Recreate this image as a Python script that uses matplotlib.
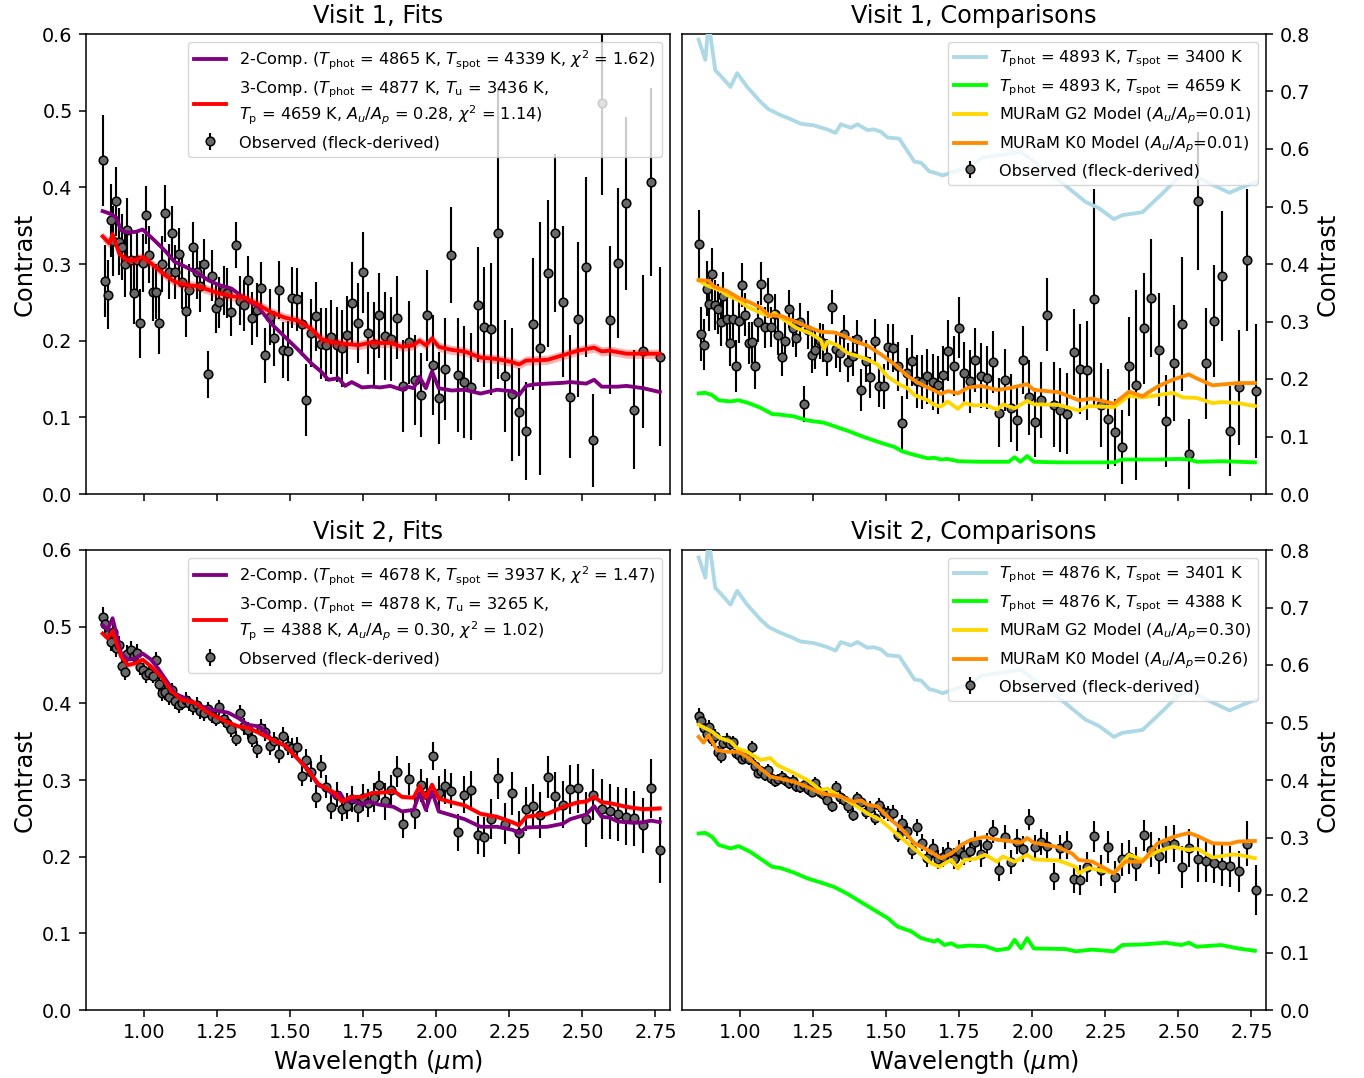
import matplotlib
matplotlib.use("Agg")
import matplotlib.pyplot as plt
import numpy as np

# ---------------- observed contrast spectra (fleck-derived) ----------------
wavelength = [
    0.857, 0.866, 0.875, 0.885, 0.894, 0.904, 0.913, 0.923, 0.932, 0.942,
    0.953, 0.964, 0.974, 0.984, 0.995, 1.006, 1.017, 1.028, 1.039, 1.050,
    1.061, 1.072, 1.084, 1.094, 1.106, 1.118, 1.130, 1.142, 1.154, 1.167,
    1.179, 1.192, 1.205, 1.218, 1.231, 1.244, 1.257, 1.271, 1.284, 1.298,
    1.312, 1.326, 1.340, 1.355, 1.369, 1.384, 1.399, 1.414, 1.429, 1.444,
    1.460, 1.475, 1.491, 1.507, 1.522, 1.539, 1.555, 1.572, 1.589, 1.606,
    1.623, 1.640, 1.658, 1.676, 1.694, 1.712, 1.730, 1.749, 1.767, 1.786,
    1.805, 1.825, 1.845, 1.864, 1.884, 1.905, 1.925, 1.946, 1.967, 1.987,
    2.008, 2.029, 2.051, 2.073, 2.095, 2.118, 2.141, 2.164, 2.187, 2.210,
    2.234, 2.258, 2.282, 2.307, 2.331, 2.356, 2.382, 2.407, 2.432, 2.458,
    2.485, 2.511, 2.538, 2.566, 2.593, 2.621, 2.649, 2.678, 2.707, 2.736,
    2.765]

v1_contrast = [
    0.435, 0.278, 0.260, 0.357, 0.330, 0.382, 0.329, 0.322, 0.300, 0.344,
    0.305, 0.262, 0.305, 0.223, 0.301, 0.364, 0.312, 0.263, 0.264, 0.223,
    0.300, 0.366, 0.290, 0.341, 0.290, 0.313, 0.277, 0.239, 0.266, 0.322,
    0.289, 0.271, 0.300, 0.156, 0.285, 0.242, 0.250, 0.266, 0.262, 0.238,
    0.325, 0.252, 0.246, 0.279, 0.229, 0.240, 0.269, 0.181, 0.231, 0.203,
    0.266, 0.188, 0.187, 0.256, 0.254, 0.222, 0.123, 0.210, 0.232, 0.196,
    0.195, 0.205, 0.195, 0.190, 0.207, 0.249, 0.223, 0.289, 0.210, 0.196,
    0.233, 0.206, 0.202, 0.230, 0.141, 0.198, 0.149, 0.129, 0.233, 0.168,
    0.125, 0.163, 0.312, 0.155, 0.146, 0.140, 0.247, 0.218, 0.215, 0.340,
    0.154, 0.130, 0.107, 0.082, 0.222, 0.190, 0.288, 0.341, 0.251, 0.127,
    0.228, 0.296, 0.070, 0.510, 0.227, 0.301, 0.379, 0.110, 0.186, 0.407,
    0.179]

v1_error = [
    0.059, 0.047, 0.045, 0.048, 0.046, 0.045, 0.044, 0.043, 0.043, 0.042,
    0.041, 0.040, 0.040, 0.045, 0.038, 0.038, 0.037, 0.037, 0.036, 0.040,
    0.036, 0.037, 0.036, 0.035, 0.035, 0.034, 0.036, 0.034, 0.034, 0.033,
    0.034, 0.033, 0.033, 0.031, 0.033, 0.032, 0.033, 0.032, 0.033, 0.032,
    0.030, 0.032, 0.033, 0.032, 0.034, 0.035, 0.034, 0.036, 0.037, 0.036,
    0.038, 0.037, 0.039, 0.040, 0.041, 0.042, 0.047, 0.044, 0.045, 0.046,
    0.047, 0.048, 0.049, 0.050, 0.051, 0.053, 0.052, 0.053, 0.054, 0.055,
    0.055, 0.057, 0.055, 0.054, 0.060, 0.054, 0.059, 0.055, 0.059, 0.065,
    0.060, 0.066, 0.063, 0.074, 0.073, 0.070, 0.075, 0.078, 0.086, 0.190,
    0.073, 0.087, 0.058, 0.064, 0.086, 0.165, 0.096, 0.103, 0.098, 0.080,
    0.101, 0.117, 0.061, 0.120, 0.096, 0.098, 0.113, 0.078, 0.100, 0.123,
    0.117]

v2_contrast = [
    0.512, 0.503, 0.490, 0.480, 0.493, 0.472, 0.476, 0.449, 0.441, 0.465,
    0.470, 0.462, 0.466, 0.447, 0.443, 0.437, 0.440, 0.436, 0.457, 0.425,
    0.413, 0.415, 0.408, 0.417, 0.403, 0.398, 0.401, 0.405, 0.400, 0.395,
    0.398, 0.390, 0.387, 0.392, 0.384, 0.380, 0.395, 0.379, 0.375, 0.366,
    0.354, 0.388, 0.370, 0.365, 0.354, 0.340, 0.368, 0.362, 0.345, 0.351,
    0.334, 0.357, 0.345, 0.342, 0.343, 0.305, 0.326, 0.311, 0.278, 0.318,
    0.291, 0.265, 0.281, 0.262, 0.266, 0.275, 0.263, 0.277, 0.270, 0.277,
    0.293, 0.272, 0.287, 0.311, 0.243, 0.301, 0.257, 0.293, 0.280, 0.331,
    0.283, 0.292, 0.286, 0.232, 0.281, 0.287, 0.228, 0.226, 0.249, 0.302,
    0.243, 0.283, 0.231, 0.262, 0.266, 0.254, 0.304, 0.279, 0.268, 0.288,
    0.289, 0.249, 0.281, 0.262, 0.259, 0.256, 0.252, 0.250, 0.241, 0.289,
    0.209]

v2_error = [
    0.014, 0.013, 0.013, 0.012, 0.012, 0.012, 0.012, 0.011, 0.011, 0.011,
    0.011, 0.011, 0.011, 0.010, 0.010, 0.010, 0.010, 0.010, 0.010, 0.010,
    0.010, 0.010, 0.010, 0.010, 0.010, 0.010, 0.010, 0.010, 0.010, 0.010,
    0.010, 0.010, 0.010, 0.010, 0.010, 0.010, 0.010, 0.010, 0.010, 0.010,
    0.010, 0.010, 0.011, 0.011, 0.011, 0.011, 0.011, 0.011, 0.012, 0.012,
    0.012, 0.012, 0.012, 0.013, 0.013, 0.013, 0.014, 0.014, 0.015, 0.015,
    0.015, 0.016, 0.016, 0.016, 0.017, 0.017, 0.018, 0.018, 0.018, 0.019,
    0.019, 0.024, 0.020, 0.020, 0.018, 0.021, 0.021, 0.022, 0.022, 0.018,
    0.022, 0.023, 0.023, 0.024, 0.024, 0.025, 0.025, 0.026, 0.026, 0.027,
    0.027, 0.028, 0.028, 0.029, 0.029, 0.030, 0.027, 0.031, 0.031, 0.032,
    0.032, 0.036, 0.033, 0.039, 0.036, 0.035, 0.037, 0.036, 0.036, 0.039,
    0.043]

# ---------------- Visit 1 fits ----------------
v1_two_wl = [0.857, 0.880, 0.903, 0.920, 0.943, 0.971, 0.994, 1.023, 1.069, 1.103,
             1.137, 1.183, 1.218, 1.252, 1.298, 1.344, 1.390, 1.435, 1.481, 1.527,
             1.573, 1.607, 1.630, 1.664, 1.687, 1.710, 1.745, 1.779, 1.808, 1.842,
             1.882, 1.902, 1.922, 1.942, 1.964, 1.985, 2.008, 2.052, 2.096, 2.151,
             2.208, 2.260, 2.283, 2.307, 2.335, 2.380, 2.433, 2.459, 2.513, 2.540,
             2.566, 2.620, 2.651, 2.708, 2.765]
v1_two = [0.369, 0.366, 0.361, 0.344, 0.341, 0.342, 0.345, 0.335, 0.318, 0.303,
          0.297, 0.288, 0.279, 0.273, 0.268, 0.255, 0.244, 0.222, 0.205, 0.188,
          0.170, 0.159, 0.149, 0.151, 0.141, 0.146, 0.139, 0.140, 0.139, 0.141,
          0.136, 0.140, 0.138, 0.153, 0.138, 0.160, 0.138, 0.135, 0.136, 0.131,
          0.136, 0.134, 0.129, 0.141, 0.143, 0.144, 0.145, 0.146, 0.144, 0.149,
          0.140, 0.140, 0.141, 0.138, 0.133]

v1_three_wl = [0.857, 0.880, 0.891, 0.914, 0.943, 0.966, 0.994, 1.023, 1.069, 1.103,
               1.137, 1.183, 1.252, 1.298, 1.344, 1.390, 1.435, 1.481, 1.527, 1.573,
               1.607, 1.642, 1.687, 1.733, 1.779, 1.808, 1.842, 1.882, 1.922, 1.942,
               1.964, 1.985, 2.008, 2.052, 2.096, 2.151, 2.208, 2.260, 2.283, 2.307,
               2.380, 2.433, 2.485, 2.540, 2.566, 2.593, 2.651, 2.708, 2.765]
v1_three = [0.336, 0.327, 0.339, 0.313, 0.305, 0.305, 0.309, 0.301, 0.286, 0.277,
            0.273, 0.271, 0.262, 0.258, 0.256, 0.247, 0.237, 0.230, 0.226, 0.215,
            0.202, 0.198, 0.196, 0.194, 0.198, 0.197, 0.197, 0.192, 0.194, 0.200,
            0.194, 0.203, 0.192, 0.188, 0.186, 0.178, 0.176, 0.172, 0.169, 0.174,
            0.175, 0.181, 0.187, 0.191, 0.186, 0.187, 0.183, 0.183, 0.183]
v1_three_unc = 0.006

# ---------------- Visit 1 comparisons ----------------
v1_cool_wl = [0.857, 0.880, 0.891, 0.914, 0.931, 0.966, 0.989, 1.023, 1.069, 1.097,
              1.137, 1.172, 1.206, 1.252, 1.298, 1.326, 1.344, 1.378, 1.401, 1.435,
              1.458, 1.481, 1.504, 1.544, 1.596, 1.619, 1.647, 1.664, 1.693, 1.787,
              1.827, 1.900, 1.960, 2.000, 2.090, 2.182, 2.228, 2.279, 2.308, 2.377,
              2.446, 2.503, 2.537, 2.595, 2.675, 2.721, 2.766]
v1_cool = [0.790, 0.755, 0.820, 0.737, 0.728, 0.708, 0.732, 0.708, 0.682, 0.669,
           0.659, 0.652, 0.644, 0.641, 0.634, 0.628, 0.643, 0.637, 0.643, 0.633,
           0.634, 0.630, 0.620, 0.618, 0.578, 0.576, 0.561, 0.559, 0.554, 0.570,
           0.585, 0.590, 0.595, 0.580, 0.546, 0.508, 0.497, 0.478, 0.485, 0.490,
           0.523, 0.552, 0.558, 0.543, 0.524, 0.534, 0.543]

v1_warm_wl = [0.857, 0.880, 0.903, 0.926, 0.966, 0.994, 1.029, 1.069, 1.109, 1.137,
              1.183, 1.229, 1.286, 1.321, 1.378, 1.418, 1.481, 1.527, 1.555, 1.596,
              1.642, 1.664, 1.687, 1.710, 1.745, 1.825, 1.919, 1.939, 1.959, 1.982,
              2.005, 2.090, 2.148, 2.279, 2.308, 2.423, 2.503, 2.537, 2.563, 2.652,
              2.762]
v1_warm = [0.175, 0.176, 0.172, 0.163, 0.161, 0.163, 0.158, 0.150, 0.139, 0.138,
           0.135, 0.128, 0.124, 0.118, 0.108, 0.100, 0.089, 0.082, 0.074, 0.068,
           0.062, 0.063, 0.060, 0.061, 0.057, 0.056, 0.056, 0.064, 0.056, 0.066,
           0.056, 0.055, 0.055, 0.055, 0.060, 0.060, 0.061, 0.060, 0.056, 0.057,
           0.055]

v1_g2_wl = [0.857, 0.880, 0.931, 0.954, 0.994, 1.023, 1.069, 1.103, 1.115, 1.149,
            1.195, 1.241, 1.275, 1.286, 1.298, 1.332, 1.367, 1.401, 1.435, 1.470,
            1.504, 1.550, 1.573, 1.596, 1.642, 1.664, 1.687, 1.710, 1.745, 1.767,
            1.802, 1.838, 1.879, 1.899, 1.939, 1.982, 2.005, 2.090, 2.159, 2.194,
            2.279, 2.331, 2.377, 2.482, 2.514, 2.563, 2.617, 2.647, 2.705, 2.762]
v1_g2 = [0.372, 0.364, 0.354, 0.346, 0.337, 0.326, 0.315, 0.309, 0.315, 0.303,
         0.288, 0.279, 0.268, 0.252, 0.265, 0.259, 0.245, 0.240, 0.234, 0.225,
         0.204, 0.189, 0.184, 0.172, 0.163, 0.155, 0.152, 0.161, 0.148, 0.158,
         0.154, 0.155, 0.147, 0.156, 0.149, 0.162, 0.156, 0.155, 0.145, 0.153,
         0.151, 0.171, 0.168, 0.176, 0.168, 0.167, 0.158, 0.160, 0.158, 0.153]

v1_k0_wl = [0.857, 0.891, 0.909, 0.954, 0.994, 1.034, 1.069, 1.097, 1.137, 1.183,
            1.229, 1.275, 1.321, 1.355, 1.390, 1.435, 1.481, 1.527, 1.573, 1.607,
            1.642, 1.664, 1.687, 1.710, 1.745, 1.779, 1.825, 1.879, 1.919, 1.982,
            2.005, 2.090, 2.159, 2.205, 2.279, 2.331, 2.377, 2.429, 2.482, 2.536,
            2.563, 2.617, 2.705, 2.762]
v1_k0 = [0.372, 0.371, 0.361, 0.353, 0.341, 0.333, 0.324, 0.311, 0.310, 0.301,
         0.291, 0.282, 0.281, 0.275, 0.266, 0.258, 0.243, 0.226, 0.205, 0.194,
         0.185, 0.180, 0.174, 0.179, 0.175, 0.185, 0.188, 0.181, 0.184, 0.191,
         0.181, 0.177, 0.163, 0.166, 0.157, 0.178, 0.170, 0.187, 0.199, 0.208,
         0.201, 0.189, 0.193, 0.193]

# ---------------- Visit 2 fits ----------------
v2_two_wl = [0.857, 0.874, 0.891, 0.920, 0.943, 0.966, 0.994, 1.023, 1.046, 1.080,
             1.103, 1.137, 1.183, 1.218, 1.252, 1.286, 1.321, 1.355, 1.390, 1.412,
             1.435, 1.481, 1.527, 1.561, 1.596, 1.624, 1.653, 1.670, 1.687, 1.710,
             1.745, 1.767, 1.802, 1.853, 1.882, 1.922, 1.942, 1.964, 1.985, 2.008,
             2.052, 2.096, 2.151, 2.208, 2.260, 2.283, 2.307, 2.380, 2.433, 2.459,
             2.513, 2.540, 2.566, 2.593, 2.620, 2.678, 2.708, 2.735, 2.765]
v2_two = [0.502, 0.496, 0.511, 0.465, 0.457, 0.458, 0.465, 0.457, 0.446, 0.427,
          0.413, 0.407, 0.398, 0.393, 0.390, 0.388, 0.381, 0.372, 0.370, 0.364,
          0.353, 0.345, 0.327, 0.314, 0.293, 0.289, 0.278, 0.283, 0.272, 0.274,
          0.268, 0.272, 0.268, 0.265, 0.259, 0.261, 0.283, 0.261, 0.285, 0.259,
          0.254, 0.249, 0.239, 0.239, 0.235, 0.231, 0.238, 0.239, 0.243, 0.249,
          0.255, 0.266, 0.252, 0.251, 0.246, 0.244, 0.245, 0.247, 0.245]

v2_three_wl = [0.857, 0.874, 0.891, 0.920, 0.943, 0.966, 0.994, 1.023, 1.057, 1.092,
               1.126, 1.172, 1.218, 1.275, 1.321, 1.355, 1.390, 1.435, 1.481, 1.527,
               1.561, 1.596, 1.624, 1.653, 1.676, 1.710, 1.745, 1.779, 1.825, 1.853,
               1.882, 1.922, 1.942, 1.964, 1.985, 2.008, 2.052, 2.096, 2.151, 2.208,
               2.260, 2.283, 2.307, 2.380, 2.433, 2.485, 2.513, 2.540, 2.566, 2.593,
               2.651, 2.708, 2.765]
v2_three = [0.491, 0.485, 0.494, 0.461, 0.450, 0.452, 0.457, 0.448, 0.435, 0.416,
            0.405, 0.401, 0.388, 0.377, 0.370, 0.368, 0.362, 0.353, 0.345, 0.327,
            0.312, 0.295, 0.289, 0.283, 0.272, 0.278, 0.278, 0.283, 0.284, 0.286,
            0.278, 0.277, 0.292, 0.277, 0.294, 0.276, 0.271, 0.267, 0.256, 0.252,
            0.245, 0.241, 0.252, 0.256, 0.265, 0.271, 0.272, 0.278, 0.271, 0.270,
            0.265, 0.262, 0.263]
v2_three_unc = 0.003

# ---------------- Visit 2 comparisons ----------------
v2_cool_wl = v1_cool_wl
v2_cool = [0.787, 0.752, 0.820, 0.734, 0.725, 0.705, 0.729, 0.705, 0.679, 0.666,
           0.656, 0.649, 0.641, 0.638, 0.631, 0.625, 0.640, 0.634, 0.640, 0.630,
           0.631, 0.627, 0.617, 0.615, 0.575, 0.573, 0.558, 0.556, 0.551, 0.567,
           0.582, 0.587, 0.592, 0.577, 0.543, 0.505, 0.494, 0.475, 0.482, 0.487,
           0.520, 0.549, 0.555, 0.540, 0.521, 0.531, 0.540]

v2_warm_wl = [0.857, 0.880, 0.903, 0.926, 0.966, 0.994, 1.034, 1.069, 1.109, 1.137,
              1.183, 1.229, 1.286, 1.321, 1.367, 1.412, 1.458, 1.504, 1.538, 1.584,
              1.619, 1.664, 1.676, 1.699, 1.722, 1.745, 1.779, 1.838, 1.879, 1.919,
              1.939, 1.961, 1.982, 2.005, 2.114, 2.148, 2.205, 2.279, 2.308, 2.377,
              2.456, 2.510, 2.536, 2.563, 2.647, 2.705, 2.762]
v2_warm = [0.307, 0.308, 0.301, 0.287, 0.281, 0.285, 0.275, 0.263, 0.249, 0.247,
           0.239, 0.229, 0.220, 0.214, 0.202, 0.188, 0.174, 0.160, 0.145, 0.137,
           0.125, 0.119, 0.122, 0.113, 0.116, 0.110, 0.112, 0.111, 0.104, 0.107,
           0.122, 0.107, 0.125, 0.107, 0.106, 0.102, 0.105, 0.102, 0.113, 0.114,
           0.117, 0.113, 0.117, 0.110, 0.113, 0.107, 0.103]

v2_g2_wl = [0.857, 0.880, 0.903, 0.931, 0.966, 0.989, 1.023, 1.069, 1.103, 1.126,
            1.183, 1.229, 1.275, 1.298, 1.344, 1.390, 1.435, 1.481, 1.527, 1.573,
            1.619, 1.653, 1.682, 1.699, 1.722, 1.745, 1.767, 1.804, 1.838, 1.879,
            1.899, 1.939, 1.982, 2.005, 2.090, 2.148, 2.159, 2.194, 2.279, 2.331,
            2.377, 2.429, 2.482, 2.536, 2.563, 2.617, 2.675, 2.705, 2.762]
v2_g2 = [0.496, 0.490, 0.484, 0.473, 0.467, 0.455, 0.449, 0.435, 0.438, 0.426,
         0.412, 0.400, 0.382, 0.385, 0.371, 0.357, 0.342, 0.330, 0.310, 0.290,
         0.270, 0.255, 0.249, 0.255, 0.261, 0.246, 0.261, 0.263, 0.270, 0.258,
         0.267, 0.258, 0.270, 0.262, 0.260, 0.249, 0.238, 0.247, 0.238, 0.270,
         0.261, 0.276, 0.284, 0.278, 0.281, 0.265, 0.270, 0.270, 0.264]

v2_k0_wl = [0.857, 0.874, 0.891, 0.920, 0.954, 0.994, 1.023, 1.069, 1.103, 1.183,
            1.229, 1.275, 1.344, 1.390, 1.412, 1.435, 1.470, 1.504, 1.550, 1.596,
            1.642, 1.687, 1.722, 1.756, 1.790, 1.838, 1.879, 1.919, 1.961, 1.982,
            2.005, 2.090, 2.136, 2.159, 2.205, 2.279, 2.319, 2.377, 2.429, 2.482,
            2.536, 2.563, 2.617, 2.675, 2.705, 2.762]
v2_k0 = [0.475, 0.465, 0.478, 0.452, 0.449, 0.449, 0.440, 0.420, 0.406, 0.397,
         0.388, 0.377, 0.371, 0.362, 0.365, 0.357, 0.354, 0.336, 0.316, 0.290,
         0.278, 0.264, 0.272, 0.287, 0.296, 0.301, 0.296, 0.294, 0.291, 0.299,
         0.291, 0.283, 0.272, 0.261, 0.258, 0.238, 0.258, 0.258, 0.290, 0.301,
         0.308, 0.303, 0.290, 0.289, 0.293, 0.294]

# ---------------- labels ----------------
v1_two_label = r"2-Comp. ($T_{\rm phot}$ = 4865 K, $T_{\rm spot}$ = 4339 K, $\chi^2$ = 1.62)"
v1_three_label = ("3-Comp. ($T_{\\rm phot}$ = 4877 K, $T_{\\rm u}$ = 3436 K,\n"
                  "$T_{\\rm p}$ = 4659 K, $A_u/A_p$ = 0.28, $\\chi^2$ = 1.14)")
v2_two_label = r"2-Comp. ($T_{\rm phot}$ = 4678 K, $T_{\rm spot}$ = 3937 K, $\chi^2$ = 1.47)"
v2_three_label = ("3-Comp. ($T_{\\rm phot}$ = 4878 K, $T_{\\rm u}$ = 3265 K,\n"
                  "$T_{\\rm p}$ = 4388 K, $A_u/A_p$ = 0.30, $\\chi^2$ = 1.02)")
v1_cool_label = r"$T_{\rm phot}$ = 4893 K, $T_{\rm spot}$ = 3400 K"
v1_warm_label = r"$T_{\rm phot}$ = 4893 K, $T_{\rm spot}$ = 4659 K"
v1_g2_label = r"MURaM G2 Model ($A_u/A_p$=0.01)"
v1_k0_label = r"MURaM K0 Model ($A_u/A_p$=0.01)"
v2_cool_label = r"$T_{\rm phot}$ = 4876 K, $T_{\rm spot}$ = 3401 K"
v2_warm_label = r"$T_{\rm phot}$ = 4876 K, $T_{\rm spot}$ = 4388 K"
v2_g2_label = r"MURaM G2 Model ($A_u/A_p$=0.30)"
v2_k0_label = r"MURaM K0 Model ($A_u/A_p$=0.26)"
obs_label = "Observed (fleck-derived)"

# ---------------- styling ----------------
S = 1.38
plt.rcParams.update({
    "font.family": "DejaVu Sans",
    "font.size": 10 * S,
    "axes.linewidth": 0.8 * S,
    "xtick.major.size": 3.5 * S,
    "ytick.major.size": 3.5 * S,
    "xtick.major.width": 0.8 * S,
    "ytick.major.width": 0.8 * S,
    "xtick.major.pad": 3.5 * S,
    "ytick.major.pad": 3.5 * S,
    "xtick.labelsize": 10 * S,
    "ytick.labelsize": 10 * S,
    "legend.fontsize": 8.4 * S,
})
LW = 2.0 * S
TITLE_FS = 12.5 * S
LABEL_FS = 12.6 * S

fig = plt.figure(figsize=(13.64, 10.78), dpi=100)
W, H = 1364.0, 1078.0


def make_axes(x0, y_top, y_bot):
    return fig.add_axes([x0 / W, (H - y_bot) / H, 584 / W, (y_bot - y_top) / H])


ax_v1_fit = make_axes(86, 34, 494)
ax_v1_cmp = make_axes(682, 34, 494)
ax_v2_fit = make_axes(86, 550, 1010)
ax_v2_cmp = make_axes(682, 550, 1010)

wl = np.array(wavelength)


def draw_observed(ax, y, err):
    ax.errorbar(wl, y, yerr=err, fmt="o", color="black", ecolor="black",
                elinewidth=1.1 * S, markerfacecolor="dimgray",
                markeredgecolor="black", markeredgewidth=0.8 * S,
                markersize=4.5 * S, capsize=0, label=obs_label, zorder=2)


def draw_fits(ax, y, err, two_wl, two, three_wl, three, unc, lbl2, lbl3, title):
    draw_observed(ax, y, err)
    ax.plot(two_wl, two, color="purple", lw=LW, label=lbl2, zorder=3)
    three_arr = np.array(three)
    ax.fill_between(three_wl, three_arr - unc, three_arr + unc,
                    color="red", alpha=0.3, lw=0, zorder=3)
    ax.plot(three_wl, three, color="red", lw=LW, label=lbl3, zorder=3)
    ax.set_ylim(0, 0.6)
    ax.set_ylabel("Contrast", fontsize=LABEL_FS)
    ax.set_title(title, fontsize=TITLE_FS, pad=6 * S)
    ax.legend(loc="upper right")


def draw_comparisons(ax, y, err, models, title):
    draw_observed(ax, y, err)
    for m_wl, m_val, color, lbl in models:
        ax.plot(m_wl, m_val, color=color, lw=LW, label=lbl, zorder=3)
    ax.set_ylim(0, 0.8)
    ax.yaxis.tick_right()
    ax.yaxis.set_label_position("right")
    ax.set_ylabel("Contrast", fontsize=LABEL_FS)
    ax.set_title(title, fontsize=TITLE_FS, pad=6 * S)
    ax.legend(loc="upper right")


draw_fits(ax_v1_fit, v1_contrast, v1_error, v1_two_wl, v1_two, v1_three_wl,
          v1_three, v1_three_unc, v1_two_label, v1_three_label, "Visit 1, Fits")
draw_fits(ax_v2_fit, v2_contrast, v2_error, v2_two_wl, v2_two, v2_three_wl,
          v2_three, v2_three_unc, v2_two_label, v2_three_label, "Visit 2, Fits")

draw_comparisons(ax_v1_cmp, v1_contrast, v1_error, [
    (v1_cool_wl, v1_cool, "lightblue", v1_cool_label),
    (v1_warm_wl, v1_warm, "lime", v1_warm_label),
    (v1_g2_wl, v1_g2, "gold", v1_g2_label),
    (v1_k0_wl, v1_k0, "darkorange", v1_k0_label),
], "Visit 1, Comparisons")
draw_comparisons(ax_v2_cmp, v2_contrast, v2_error, [
    (v2_cool_wl, v2_cool, "lightblue", v2_cool_label),
    (v2_warm_wl, v2_warm, "lime", v2_warm_label),
    (v2_g2_wl, v2_g2, "gold", v2_g2_label),
    (v2_k0_wl, v2_k0, "darkorange", v2_k0_label),
], "Visit 2, Comparisons")

xticks = [1.00, 1.25, 1.50, 1.75, 2.00, 2.25, 2.50, 2.75]
for ax in (ax_v1_fit, ax_v1_cmp, ax_v2_fit, ax_v2_cmp):
    ax.set_xlim(0.8, 2.8)
    ax.set_xticks(xticks)
for ax in (ax_v1_fit, ax_v1_cmp):
    ax.tick_params(labelbottom=False)
for ax in (ax_v2_fit, ax_v2_cmp):
    ax.set_xticklabels([f"{t:.2f}" for t in xticks])
    ax.set_xlabel(r"Wavelength ($\mu$m)", fontsize=LABEL_FS)

fig.savefig("out.png", dpi=100)
